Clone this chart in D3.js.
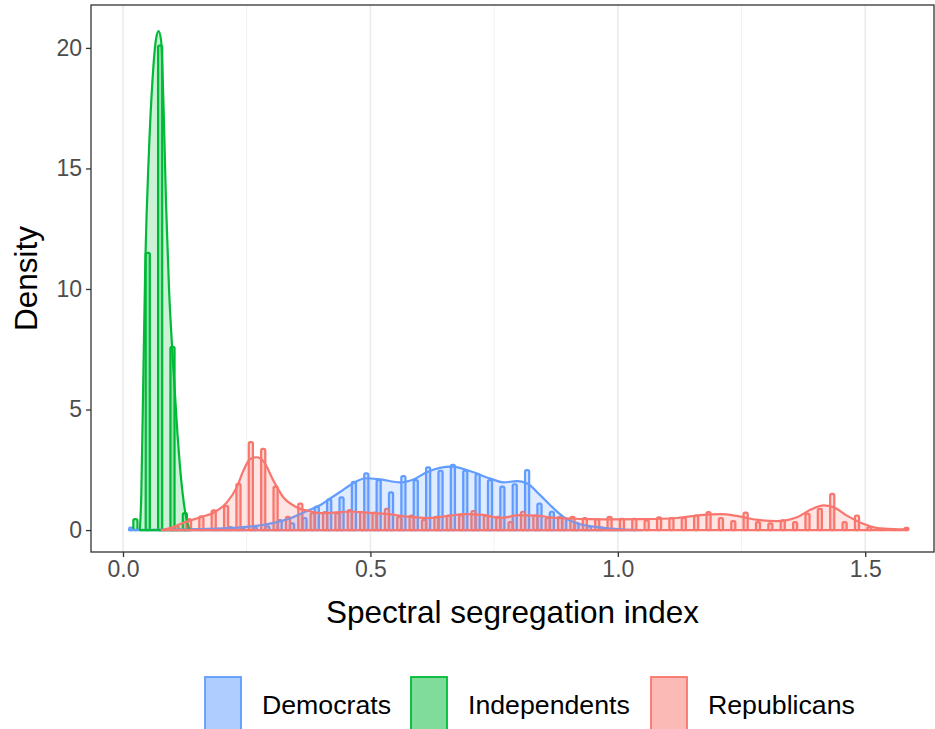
<!DOCTYPE html>
<html>
<head>
<meta charset="utf-8">
<script src="https://cdn.jsdelivr.net/npm/d3@7"></script>
<style>
  body { margin: 0; background: #fff; }
  svg { display: block; font-family: "Liberation Sans", Arial, sans-serif; }
</style>
</head>
<body>
<div id="chart"></div>
<script>
// groups and colours
const groups = ["Democrats", "Independents", "Republicans"];
const colors = ["#619CFF", "#00BA38", "#F8766D"];

// histogram bins (bin centre, binwidth 0.025, dodged by group)
const binWidth = 0.025;
const demBins = [0.025, 0.2, 0.225, 0.25, 0.275, 0.3, 0.325, 0.35, 0.375, 0.4, 0.425, 0.45, 0.475, 0.5, 0.525, 0.55, 0.575, 0.6, 0.625, 0.65, 0.675, 0.7, 0.725, 0.75, 0.775, 0.8, 0.825, 0.85, 0.875, 0.9, 0.925, 0.95, 0.975, 1.0];
const demHist = [0.1, 0.05, 0.12, 0.08, 0.1, 0.15, 0.41, 0.28, 0.5, 0.97, 1.27, 1.36, 2.0, 2.35, 2.07, 1.56, 2.24, 2.07, 2.6, 2.46, 2.71, 2.46, 2.32, 2.07, 1.8, 1.9, 2.49, 1.1, 0.76, 0.5, 0.3, 0.15, 0.1, 0.05];

const indBins = [0.025, 0.05, 0.075, 0.1, 0.125];
const indHist = [0.45, 11.5, 20.1, 7.6, 0.7];

const repBins = [0.1, 0.125, 0.15, 0.175, 0.2, 0.225, 0.25, 0.275, 0.3, 0.325, 0.35, 0.375, 0.4, 0.425, 0.45, 0.475, 0.5, 0.525, 0.55, 0.575, 0.6, 0.625, 0.65, 0.675, 0.7, 0.725, 0.75, 0.775, 0.8, 0.825, 0.85, 0.875, 0.9, 0.925, 0.95, 0.975, 1.0, 1.025, 1.05, 1.075, 1.1, 1.125, 1.15, 1.175, 1.2, 1.225, 1.25, 1.275, 1.3, 1.325, 1.35, 1.375, 1.4, 1.425, 1.45, 1.475, 1.5, 1.525, 1.55, 1.575];
const repHist = [0.15, 0.45, 0.57, 0.82, 1.0, 1.92, 3.65, 3.37, 1.8, 0.55, 1.1, 0.7, 0.75, 0.7, 0.83, 0.75, 0.72, 0.88, 0.55, 0.6, 0.42, 0.55, 0.6, 0.62, 0.79, 0.6, 0.55, 0.33, 0.76, 0.6, 0.5, 0.55, 0.55, 0.5, 0.45, 0.55, 0.46, 0.46, 0.4, 0.53, 0.5, 0.5, 0.6, 0.74, 0.5, 0.37, 0.72, 0.33, 0.28, 0.4, 0.33, 0.68, 0.88, 1.5, 0.33, 0.6, 0.12, 0.05, 0.03, 0.09];

// density curves (x, density)
const demDensX = [0.012, 0.05, 0.1, 0.15, 0.2, 0.25, 0.3, 0.34, 0.371, 0.4, 0.418, 0.44, 0.466, 0.49, 0.52, 0.56, 0.587, 0.614, 0.64, 0.665, 0.701, 0.742, 0.769, 0.796, 0.816, 0.843, 0.863, 0.89, 0.917, 0.951, 0.991, 1.05];
const demDensY = [0, 0.01, 0.02, 0.04, 0.07, 0.13, 0.28, 0.5, 0.78, 1.05, 1.3, 1.6, 1.95, 2.15, 2.1, 1.98, 2.1, 2.4, 2.58, 2.63, 2.45, 2.14, 1.98, 2.03, 1.94, 1.45, 1.04, 0.55, 0.28, 0.14, 0.05, 0];

const indDensX = [0.034, 0.037, 0.04, 0.045, 0.052, 0.06, 0.067, 0.072, 0.077, 0.082, 0.087, 0.093, 0.1, 0.11, 0.12, 0.13, 0.135];
const indDensY = [0, 1.5, 5, 11, 15.5, 18.8, 20.4, 20.7, 20.3, 17.5, 13.5, 10, 7.3, 4, 1.6, 0.3, 0];

const repDensX = [0.078, 0.1, 0.122, 0.156, 0.183, 0.21, 0.23, 0.243, 0.257, 0.27, 0.284, 0.304, 0.324, 0.351, 0.378, 0.4, 0.425, 0.46, 0.493, 0.533, 0.573, 0.614, 0.654, 0.69, 0.728, 0.762, 0.802, 0.836, 0.863, 0.904, 0.944, 0.99, 1.05, 1.12, 1.173, 1.207, 1.24, 1.28, 1.321, 1.362, 1.389, 1.416, 1.436, 1.463, 1.496, 1.523, 1.557, 1.585];
const repDensY = [0, 0.12, 0.3, 0.53, 0.72, 1.15, 1.78, 2.45, 2.95, 3.02, 2.85, 2.05, 1.36, 0.95, 0.78, 0.7, 0.72, 0.77, 0.72, 0.67, 0.56, 0.5, 0.58, 0.66, 0.63, 0.5, 0.62, 0.6, 0.53, 0.48, 0.45, 0.44, 0.45, 0.5, 0.63, 0.66, 0.59, 0.43, 0.37, 0.53, 0.84, 1.02, 0.95, 0.6, 0.26, 0.09, 0.04, 0.03];

const xTicks = [0, 0.5, 1.0, 1.5];
const xMinor = [0.25, 0.75, 1.25];
const yTicks = [0, 5, 10, 15, 20];

const width = 935, height = 729;
const panel = { left: 91, right: 934, top: 5, bottom: 552 };

const svg = d3.select("#chart").append("svg")
  .attr("width", width)
  .attr("height", height);

const xScale = d3.scaleLinear().domain([-0.0647, 1.639]).range([panel.left, panel.right]);
const yScale = d3.scaleLinear().domain([-0.91, 21.78]).range([panel.bottom, panel.top]);

// gridlines (vertical only)
svg.append("g").selectAll("line")
  .data(xMinor)
  .join("line")
  .attr("x1", d => xScale(d)).attr("x2", d => xScale(d))
  .attr("y1", panel.top).attr("y2", panel.bottom)
  .attr("stroke", "#F2F2F2").attr("stroke-width", 1);

svg.append("g").selectAll("line")
  .data(xTicks)
  .join("line")
  .attr("x1", d => xScale(d)).attr("x2", d => xScale(d))
  .attr("y1", panel.top).attr("y2", panel.bottom)
  .attr("stroke", "#EBEBEB").attr("stroke-width", 1.6);

svg.append("clipPath").attr("id", "clip")
  .append("rect")
  .attr("x", panel.left).attr("y", panel.top)
  .attr("width", panel.right - panel.left).attr("height", panel.bottom - panel.top);
const plot = svg.append("g")
  .attr("clip-path", "url(#clip)");

// histograms, dodged: Democrats left, Independents middle, Republicans right
const hist = [
  { bins: demBins, vals: demHist, shift: -1 },
  { bins: indBins, vals: indHist, shift: 0 },
  { bins: repBins, vals: repHist, shift: 1 }
];
const sub = binWidth / 3;

hist.forEach((h, i) => {
  const bars = h.bins.map((c, j) => ({ x: c + h.shift * sub, y: h.vals[j] }));
  plot.append("g").selectAll("rect")
    .data(bars)
    .join("rect")
    .attr("x", d => xScale(d.x - sub / 2))
    .attr("width", d => xScale(d.x + sub / 2) - xScale(d.x - sub / 2))
    .attr("y", d => yScale(d.y))
    .attr("height", d => yScale(0) - yScale(d.y))
    .attr("rx", 1.5)
    .attr("fill", colors[i]).attr("fill-opacity", 0.25)
    .attr("stroke", colors[i]).attr("stroke-width", 2.2)
    .attr("stroke-linejoin", "round");
});

// density polygons
const dens = [
  { xs: demDensX, ys: demDensY },
  { xs: indDensX, ys: indDensY },
  { xs: repDensX, ys: repDensY }
];

const area = d3.area()
  .x(d => xScale(d[0]))
  .y0(yScale(0))
  .y1(d => yScale(d[1]))
  .curve(d3.curveMonotoneX);

dens.forEach((dd, i) => {
  const pts = dd.xs.map((x, j) => [x, dd.ys[j]]);
  plot.append("path")
    .datum(pts)
    .attr("d", area)
    .attr("fill", colors[i]).attr("fill-opacity", 0.2)
    .attr("stroke", colors[i]).attr("stroke-width", 2.2)
    .attr("stroke-linejoin", "round");
});

// panel border
svg.append("rect")
  .attr("x", panel.left).attr("y", panel.top)
  .attr("width", panel.right - panel.left).attr("height", panel.bottom - panel.top)
  .attr("fill", "none").attr("stroke", "#333333").attr("stroke-width", 1.3);

// axes
const xAxis = d3.axisBottom(xScale).tickValues(xTicks).tickFormat(d3.format(".1f")).tickSize(5).tickPadding(4);
const yAxis = d3.axisLeft(yScale).tickValues(yTicks).tickFormat(d3.format("d")).tickSize(5).tickPadding(4);

const gx = svg.append("g").attr("transform", `translate(0,${panel.bottom})`).call(xAxis);
const gy = svg.append("g").attr("transform", `translate(${panel.left},0)`).call(yAxis);

[gx, gy].forEach(g => {
  g.select(".domain").remove();
  g.selectAll(".tick line").attr("stroke", "#333333").attr("stroke-width", 1.3);
  g.selectAll(".tick text").attr("fill", "#4D4D4D").style("font-size", "23px")
    .style("font-family", "'Liberation Sans', Arial, sans-serif");
});

// axis titles
svg.append("text")
  .attr("x", (panel.left + panel.right) / 2)
  .attr("y", 623)
  .attr("text-anchor", "middle")
  .style("font-size", "31.5px")
  .text("Spectral segregation index");

svg.append("text")
  .attr("transform", `translate(37,${(panel.top + panel.bottom) / 2}) rotate(-90)`)
  .attr("text-anchor", "middle")
  .style("font-size", "31.5px")
  .text("Density");

// legend
const legendX = [205, 411, 651];
const legend = svg.append("g");
groups.forEach((g, i) => {
  legend.append("rect")
    .attr("x", legendX[i]).attr("y", 677)
    .attr("width", 36).attr("height", 60)
    .attr("fill", colors[i]).attr("fill-opacity", 0.5)
    .attr("stroke", colors[i]).attr("stroke-width", 1.8);
  legend.append("text")
    .attr("x", legendX[i] + 57).attr("y", 714)
    .style("font-size", "26.7px")
    .text(g);
});
</script>
</body>
</html>
